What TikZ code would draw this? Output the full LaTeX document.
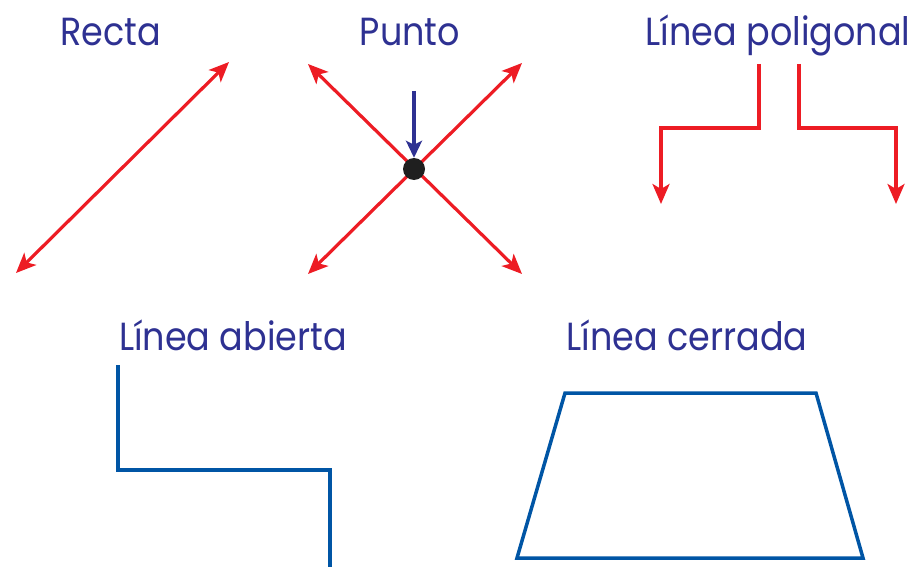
\documentclass[tikz,border=0pt]{standalone}
\usepackage{fontspec}
\setmainfont{Poppins}
\usetikzlibrary{arrows.meta}
\definecolor{txtblue}{RGB}{46,49,146}
\definecolor{linered}{RGB}{237,28,36}
\definecolor{lineblue}{RGB}{0,85,165}
\newcommand{\lbltext}[1]{\scalebox{1}[1.12]{#1}}
\begin{document}
\begin{tikzpicture}[x=1pt,y=-1pt,
  lbl/.style={text=txtblue,font=\fontsize{35}{35}\selectfont,anchor=base,inner sep=0pt},
  redarrow/.style={draw=linered,line width=3.2pt,-{Stealth[length=20pt,width=17pt,inset=5pt]}},
  redboth/.style={draw=linered,line width=3.2pt,{Stealth[length=20pt,width=17pt,inset=5pt]}-{Stealth[length=20pt,width=17pt,inset=5pt]}},
  blueline/.style={draw=lineblue,line width=3.5pt},
  pointer/.style={draw=txtblue,line width=3.5pt,-{Stealth[length=17pt,width=16pt,inset=4pt]}}]
\useasboundingbox (0,0) rectangle (923,567);
% labels
\node[lbl] (recta) at (111,46) {\lbltext{Recta}};
\node[lbl] (punto) at (410,46) {\lbltext{Punto}};
\node[lbl] (poli) at (778,46) {\lbltext{Línea poligonal}};
\node[lbl] (abierta) at (233,350) {\lbltext{Línea abierta}};
\node[lbl] (cerrada) at (687,350) {\lbltext{Línea cerrada}};
% Recta
\coordinate (r1) at (16,273);
\coordinate (r2) at (229,62);
\draw[redboth] (r1) -- (r2);
% Punto
\coordinate (p1) at (308,64);
\coordinate (p2) at (522,274);
\coordinate (p3) at (522,63);
\coordinate (p4) at (308,274);
\draw[redboth] (p1) -- (p2);
\draw[redboth] (p3) -- (p4);
\node[circle,fill=black!88,minimum size=22pt,inner sep=0pt] (pt) at (414,169) {};
\coordinate (ptop) at (414,91);
\draw[pointer] (ptop) -- (pt.north);
% Linea poligonal
\coordinate (a1) at (759,64);
\coordinate (a2) at (661,204);
\coordinate (b1) at (799,64);
\coordinate (b2) at (896,204);
\draw[redarrow] (a1) |- (710,128) -| (a2);
\draw[redarrow] (b1) |- (850,128) -| (b2);
% Linea abierta
\coordinate (o1) at (118,365);
\coordinate (o2) at (330,567);
\draw[blueline] (o1) |- (224,470) -| (o2);
% Linea cerrada
\coordinate (c1) at (565,393);
\coordinate (c2) at (816,393);
\coordinate (c3) at (863,558);
\coordinate (c4) at (517,558);
\draw[blueline,line join=miter] (c1) -- (c2) -- (c3) -- (c4) -- cycle;
\end{tikzpicture}
\end{document}
